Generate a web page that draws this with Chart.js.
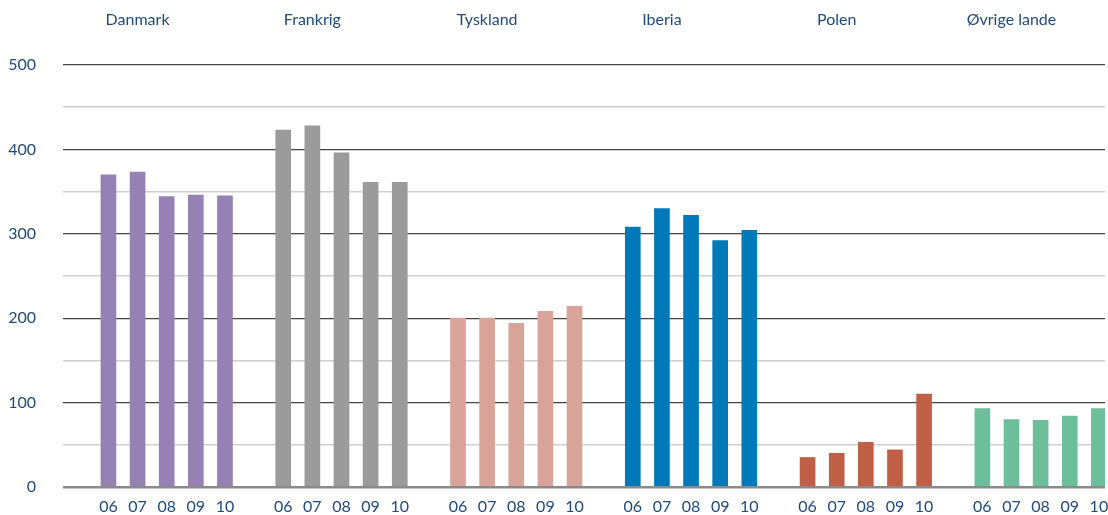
<!DOCTYPE html>
<html>
<head>
<meta charset="utf-8">
<script src="https://cdn.jsdelivr.net/npm/chart.js@4.4.0/dist/chart.umd.min.js"></script>
<style>
  html, body { margin: 0; padding: 0; background: #fff; overflow: hidden; }
  #wrap { width: 1108px; height: 515px; }
</style>
</head>
<body>
<div id="wrap"><canvas id="chart" width="1108" height="515"></canvas></div>
<script>
// Data
var countries = ['Danmark', 'Frankrig', 'Tyskland', 'Iberia', 'Polen', 'Øvrige lande'];
var years = ['06', '07', '08', '09', '10'];

var danmark  = [370, 373, 344, 346, 345];
var frankrig = [423, 428, 396, 361, 361];
var tyskland = [200, 200, 194, 208, 214];
var iberia   = [308, 330, 322, 292, 304];
var polen    = [35, 40, 53, 44, 110];
var ovrige   = [93, 80, 79, 84, 93];

var yTicks = [0, 100, 200, 300, 400, 500];

var series = [danmark, frankrig, tyskland, iberia, polen, ovrige];
var colors = ['#9581b3', '#9b9b9b', '#d8a398', '#0079b8', '#bf5f45', '#6dbf9c'];

var textColor = '#1f4a7d';
var fontFamily = "Lato, 'Noto Sans', sans-serif";

// each country takes 6 slots on the x scale: 5 bars + 1 gap
function slot(g, j) { return g * 6 + 1 + j; }

var datasets = series.map(function(values, g) {
    return {
        label: countries[g],
        data: values.map(function(v, j) { return { x: slot(g, j), y: v }; }),
        backgroundColor: colors[g],
        barThickness: 15,
        grouped: false
    };
});

var barTicks = [];
countries.forEach(function(c, g) {
    years.forEach(function(y, j) { barTicks.push(slot(g, j)); });
});

var xMin = -0.56, xMax = 35.21;

// labels are allowed to hang over the plot edges
function noPadding(scale) {
    scale.paddingLeft = 0;
    scale.paddingRight = 0;
    scale.paddingTop = 0;
    scale.paddingBottom = 0;
}

new Chart(document.getElementById('chart').getContext('2d'), {
    type: 'bar',
    data: { datasets: datasets },
    options: {
        responsive: false,
        animation: false,
        layout: { padding: { top: 0, right: 3, bottom: 0, left: 0 } },
        plugins: {
            legend: { display: false },
            tooltip: { enabled: false }
        },
        scales: {
            x: {
                type: 'linear',
                position: 'bottom',
                offset: false,
                min: xMin,
                max: xMax,
                grid: { display: false, drawTicks: false },
                border: { display: false },
                afterBuildTicks: function(scale) {
                    scale.ticks = barTicks.map(function(v) { return { value: v }; });
                },
                afterFit: function(scale) { scale.height = 28; noPadding(scale); },
                ticks: {
                    padding: 10,
                    color: textColor,
                    font: { family: fontFamily, size: 16 },
                    maxRotation: 0,
                    autoSkip: false,
                    callback: function(value) {
                        return years[(Math.round(value) - 1) % 6];
                    }
                }
            },
            top: {
                type: 'linear',
                position: 'top',
                offset: false,
                min: xMin,
                max: xMax,
                grid: { display: false, drawTicks: false },
                border: { display: false },
                afterBuildTicks: function(scale) {
                    scale.ticks = countries.map(function(c, g) { return { value: slot(g, 1) }; });
                },
                afterFit: function(scale) { scale.height = 65; noPadding(scale); },
                ticks: {
                    padding: 36,
                    color: textColor,
                    font: { family: fontFamily, size: 16 },
                    maxRotation: 0,
                    autoSkip: false,
                    callback: function(value) {
                        return countries[(Math.round(value) - 2) / 6];
                    }
                }
            },
            y: {
                min: 0,
                max: 500,
                border: { display: false },
                afterFit: function(scale) { scale.width = 63; noPadding(scale); },
                ticks: {
                    stepSize: 50,
                    padding: 27,
                    color: textColor,
                    font: { family: fontFamily, size: 16 },
                    callback: function(value) {
                        return yTicks.indexOf(value) >= 0 ? value : '';
                    }
                },
                grid: {
                    drawTicks: false,
                    color: function(ctx) {
                        var v = ctx.tick.value;
                        if (v === 0) return '#8a8a8a';
                        return v % 100 === 0 ? '#444444' : '#cfcfcf';
                    },
                    lineWidth: function(ctx) {
                        var v = ctx.tick.value;
                        if (v === 0) return 2.5;
                        return v % 100 === 0 ? 1.3 : 1.5;
                    }
                }
            }
        }
    }
});
</script>
</body>
</html>
